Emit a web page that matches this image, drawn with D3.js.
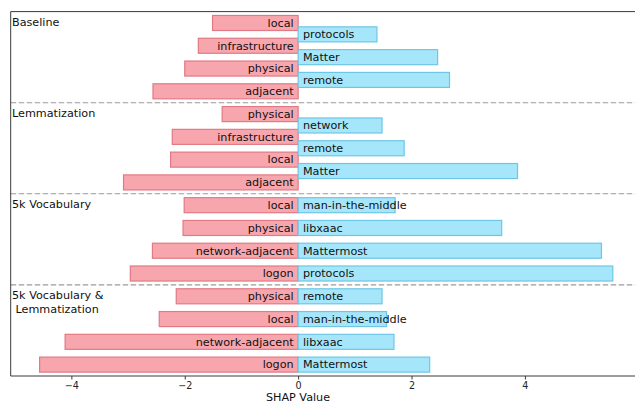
<!DOCTYPE html>
<html>
<head>
<meta charset="utf-8">
<script src="https://cdn.jsdelivr.net/npm/d3@7"></script>
<style>
  html, body { margin: 0; padding: 0; background: #ffffff; }
  svg { display: block; font-family: "DejaVu Sans", sans-serif; }
</style>
</head>
<body>
<svg id="chart" width="635" height="404"></svg>
<script>
// SHAP contributions of the top terms per preprocessing setup
const groupNames = ["Baseline", "Lemmatization", "5k Vocabulary", "5k Vocabulary &\n Lemmatization"];

const negTerms = [
  ["local", "infrastructure", "physical", "adjacent"],
  ["physical", "infrastructure", "local", "adjacent"],
  ["local", "physical", "network-adjacent", "logon"],
  ["physical", "local", "network-adjacent", "logon"]
];
const negValues = [
  [-1.51, -1.76, -2.00, -2.56],
  [-1.34, -2.22, -2.25, -3.08],
  [-2.01, -2.03, -2.57, -2.96],
  [-2.15, -2.45, -4.11, -4.56]
];

const posTerms = [
  ["protocols", "Matter", "remote"],
  ["network", "remote", "Matter"],
  ["man-in-the-middle", "libxaac", "Mattermost", "protocols"],
  ["remote", "man-in-the-middle", "libxaac", "Mattermost"]
];
const posValues = [
  [1.39, 2.46, 2.67],
  [1.48, 1.87, 3.87],
  [1.71, 3.59, 5.35, 5.55],
  [1.48, 1.56, 1.69, 2.32]
];

const xTicks = [-4, -2, 0, 2, 4];
const xLabel = "SHAP Value";

// ---- layout ----
const svg = d3.select("#chart");
const slotsPerGroup = 8;          // 7 bar slots + 1 separator slot
const totalSlots = groupNames.length * slotsPerGroup;

const x = d3.scaleLinear().domain([-5.07, 6.06]).range([10.7, 641.7]);
const y = d3.scaleLinear().domain([-1, totalSlots - 1]).range([11.6, 376]);
const barH = y(1.32) - y(0);

// Build bar records: negative terms on even slots; positive terms either
// interleaved on odd slots (when one fewer) or sharing the even slots.
const bars = [];
groupNames.forEach((g, gi) => {
  const base = gi * slotsPerGroup;
  negTerms[gi].forEach((t, i) => {
    bars.push({ term: t, value: negValues[gi][i], slot: base + 2 * i, sign: -1 });
  });
  const interleave = posTerms[gi].length < negTerms[gi].length;
  posTerms[gi].forEach((t, i) => {
    bars.push({ term: t, value: posValues[gi][i], slot: base + 2 * i + (interleave ? 1 : 0), sign: 1 });
  });
});

const plot = svg.append("g");

// bars
plot.selectAll("rect.bar")
  .data(bars)
  .join("rect")
  .attr("class", "bar")
  .attr("x", d => x(Math.min(0, d.value)))
  .attr("width", d => Math.abs(x(d.value) - x(0)))
  .attr("y", d => y(d.slot) - barH / 2)
  .attr("height", barH)
  .attr("fill", d => d.sign < 0 ? "#f8a6ae" : "#a6e6fb")
  .attr("stroke", d => d.sign < 0 ? "#e07a84" : "#6fc6e4")
  .attr("stroke-width", 1.2);

// term labels
plot.selectAll("text.term")
  .data(bars)
  .join("text")
  .attr("class", "term")
  .attr("x", d => d.sign < 0 ? x(0) - 4.5 : x(0) + 4.8)
  .attr("y", d => y(d.slot))
  .attr("dy", "0.34em")
  .attr("text-anchor", d => d.sign < 0 ? "end" : "start")
  .attr("font-size", 11.2)
  .attr("fill", "#111")
  .text(d => d.term);

// group separators
const seps = d3.range(1, groupNames.length).map(i => i * slotsPerGroup - 1);
plot.selectAll("line.sep")
  .data(seps)
  .join("line")
  .attr("class", "sep")
  .attr("x1", x.range()[0])
  .attr("x2", x.range()[1])
  .attr("y1", d => y(d))
  .attr("y2", d => y(d))
  .attr("stroke", "#9a9a9a")
  .attr("stroke-width", 1.1)
  .attr("stroke-dasharray", "5.5,2.5");

// group titles
groupNames.forEach((g, gi) => {
  const t = plot.append("text")
    .attr("x", 12)
    .attr("y", y(gi * slotsPerGroup - 1) + 14)
    .attr("font-size", 11.2)
    .attr("fill", "#111")
    .attr("xml:space", "preserve");
  g.split("\n").forEach((line, li) => {
    t.append("tspan")
      .attr("x", 12)
      .attr("dy", li === 0 ? 0 : 14.5)
      .text(line);
  });
});

// frame (left, top, bottom)
const frame = svg.append("g").attr("fill", "none").attr("stroke", "#3a3a3a").attr("stroke-width", 1);
frame.append("line").attr("x1", x.range()[0]).attr("x2", x.range()[0]).attr("y1", y.range()[0]).attr("y2", y.range()[1]);
frame.append("line").attr("x1", x.range()[0]).attr("x2", x.range()[1]).attr("y1", y.range()[0]).attr("y2", y.range()[0]);

// x axis
const xAxis = d3.axisBottom(x)
  .tickValues(xTicks)
  .tickSize(3.5)
  .tickPadding(3)
  .tickFormat(d => d < 0 ? "\u2212" + Math.abs(d) : String(d));

const ax = svg.append("g")
  .attr("transform", `translate(0,${y.range()[1]})`)
  .call(xAxis);
ax.select(".domain").attr("stroke", "#3a3a3a").attr("d", `M${x.range()[0]},0H${x.range()[1]}`);
ax.selectAll(".tick line").attr("stroke", "#3a3a3a");
ax.selectAll(".tick text")
  .attr("font-family", "DejaVu Sans, sans-serif")
  .attr("font-size", 9.6)
  .attr("fill", "#222");

svg.append("text")
  .attr("x", 298)
  .attr("y", 401)
  .attr("text-anchor", "middle")
  .attr("font-size", 11.2)
  .attr("fill", "#111")
  .text(xLabel);
</script>
</body>
</html>
